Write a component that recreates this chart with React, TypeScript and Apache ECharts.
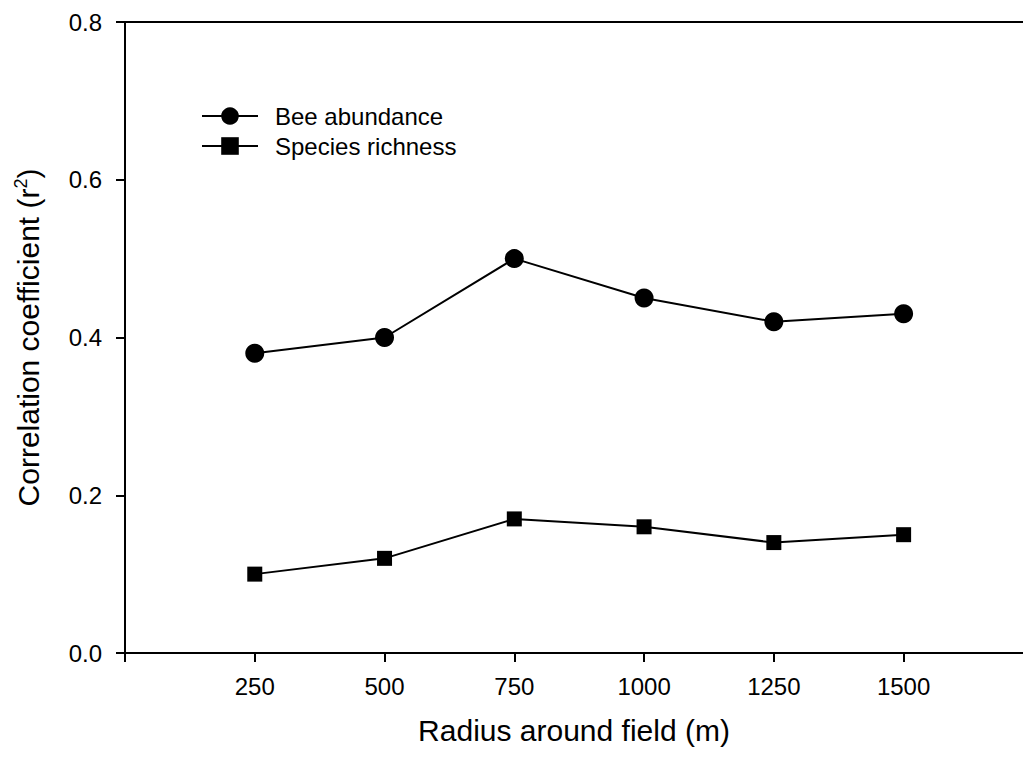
import React, { useEffect, useRef } from "react";
import * as echarts from "echarts";

// Buffer radius around each field (m)
const radii = [250, 500, 750, 1000, 1250, 1500];
// r² of landscape predictor vs. bee measures
const beeAbundance = [0.38, 0.4, 0.5, 0.45, 0.42, 0.43];
const speciesRichness = [0.1, 0.12, 0.17, 0.16, 0.14, 0.15];
// x tick positions and labels
const xTicks = [0, 250, 500, 750, 1000, 1250, 1500];
const xLabels = [250, 500, 750, 1000, 1250, 1500];

const FONT = "'Liberation Sans', Arial, Helvetica, sans-serif";

export default function App() {
  const ref = useRef<HTMLDivElement>(null);

  useEffect(() => {
    document.body.style.margin = "0";
    const chart = echarts.init(ref.current!, null, { renderer: "svg" });
    const axisLine = { show: true, lineStyle: { color: "#000", width: 2 } };
    chart.setOption({
      animation: false,
      backgroundColor: "#fff",
      textStyle: { fontFamily: FONT, color: "#000" },
      grid: { left: 125, right: 0, top: 22, bottom: 106, containLabel: false },
      legend: {
        orient: "vertical",
        left: 196,
        top: 99,
        itemWidth: 56,
        itemHeight: 22,
        itemGap: 6,
        textStyle: { fontFamily: FONT, fontSize: 24, color: "#000", padding: [0, 0, 0, 12] },
        data: ["Bee abundance", "Species richness"],
      },
      xAxis: [
        {
          type: "value",
          min: 0,
          max: 1730,
          interval: 250,
          name: "Radius around field (m)",
          nameLocation: "middle",
          nameGap: 62,
          nameTextStyle: { fontFamily: FONT, fontSize: 30, color: "#000" },
          axisLine,
          axisTick: {
            show: true,
            inside: false,
            length: 9,
            customValues: xTicks,
            lineStyle: { color: "#000", width: 2 },
          },
          axisLabel: {
            fontFamily: FONT,
            fontSize: 24,
            color: "#000",
            margin: 21,
            customValues: xLabels,
            formatter: (v: number) => String(v),
          },
          splitLine: { show: false },
        },
        {
          type: "value",
          position: "top",
          min: 0,
          max: 1730,
          axisLine,
          axisTick: { show: false },
          axisLabel: { show: false },
          splitLine: { show: false },
        },
      ],
      yAxis: {
        type: "value",
        min: 0,
        max: 0.8,
        interval: 0.2,
        name: "Correlation coefficient (r{sup|2})",
        nameLocation: "middle",
        nameGap: 81,
        nameRotate: 90,
        nameTextStyle: {
          fontFamily: FONT,
          fontSize: 30,
          color: "#000",
          rich: {
            sup: { fontFamily: FONT, fontSize: 18, color: "#000", padding: [0, 0, 14, 0] },
          },
        },
        axisLine,
        axisTick: { show: true, inside: false, length: 9, lineStyle: { color: "#000", width: 2 } },
        axisLabel: {
          fontFamily: FONT,
          fontSize: 24,
          color: "#000",
          margin: 23,
          formatter: (v: number) => v.toFixed(1),
        },
        splitLine: { show: false },
      },
      series: [
        {
          name: "Bee abundance",
          type: "line",
          data: radii.map((r, i) => [r, beeAbundance[i]]),
          symbol: "circle",
          symbolSize: 19,
          lineStyle: { color: "#000", width: 2 },
          itemStyle: { color: "#000" },
        },
        {
          name: "Species richness",
          type: "line",
          data: radii.map((r, i) => [r, speciesRichness[i]]),
          symbol: "rect",
          symbolSize: 15,
          lineStyle: { color: "#000", width: 2 },
          itemStyle: { color: "#000" },
        },
      ],
    });
    return () => chart.dispose();
  }, []);

  return <div ref={ref} style={{ width: 1023, height: 759 }} />;
}
